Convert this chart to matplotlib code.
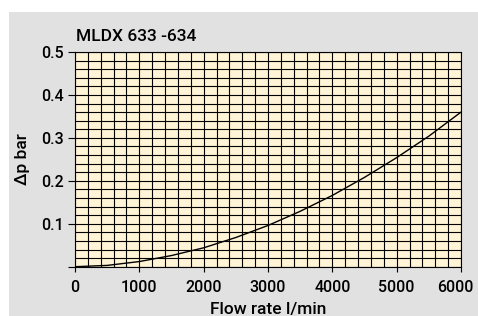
import matplotlib
matplotlib.use("Agg")
import matplotlib.pyplot as plt
import matplotlib.transforms as mtransforms
from matplotlib.patches import Rectangle
from matplotlib.ticker import MultipleLocator

# valori
portata = [0, 500, 1000, 1500, 2000, 2500, 3000, 3500, 4000, 4500, 5000, 5500, 6000]
delta_p = [0, 0.003, 0.012, 0.026, 0.044, 0.068, 0.096, 0.129, 0.166, 0.208, 0.254, 0.304, 0.36]
x_ticks = [0, 1000, 2000, 3000, 4000, 5000, 6000]
y_ticks = [0, 0.1, 0.2, 0.3, 0.4, 0.5]
y_labels = ['', '0.1', '0.2', '0.3', '0.4', '0.5']

plt.rcParams['font.family'] = ['Roboto', 'DejaVu Sans']
plt.rcParams['font.weight'] = 'medium'

fig = plt.figure(figsize=(4.78, 3.16), dpi=100)
fig.patch.set_facecolor('white')
# sfondo grigio
sfondo = Rectangle((9 / 478, 0), 1 - 9 / 478, 1 - 12 / 316,
                   transform=fig.transFigure, facecolor='#e1e1e1',
                   edgecolor='none', zorder=-10)
fig.add_artist(sfondo)

ax = fig.add_axes([75 / 478, 1 - 266.7 / 316, 386 / 478, 214.7 / 316])
ax.set_facecolor('#fff4d6')

ax.plot(portata, delta_p, color='black', linewidth=1.0, zorder=3)

ax.set_xlim(0, 6000)
ax.set_ylim(0, 0.5)
ax.set_xticks(x_ticks)
ax.set_yticks(y_ticks)
ax.set_yticklabels(y_labels)
ax.xaxis.set_minor_locator(MultipleLocator(200))
ax.yaxis.set_minor_locator(MultipleLocator(0.02))

ax.grid(True, which='both', color='black', linewidth=0.8)
ax.set_axisbelow(True)
for s in ax.spines.values():
    s.set_color('black')
    s.set_linewidth(0.8)

ax.tick_params(axis='x', which='major', length=3.5, width=0.8, labelsize=11.5, pad=6)
ax.tick_params(axis='y', which='major', length=5, width=0.8, labelsize=11.5, pad=3)
ax.tick_params(which='minor', length=0)

# l'ultima etichetta e' spostata un po' a sinistra
ultima = ax.get_xticklabels()[-1]
ultima.set_transform(ultima.get_transform() +
                     mtransforms.ScaledTranslation(-6 / 100, 0, fig.dpi_scale_trans))

ax.set_xlabel('Flow rate l/min', fontsize=12.5, fontweight='medium', labelpad=5)
ax.set_ylabel('Δp bar', fontsize=12.5, fontweight='medium', labelpad=8)
ax.text(0.003, 1.035, 'MLDX 633 -634', transform=ax.transAxes,
        fontsize=12.5, fontweight='medium', ha='left', va='bottom')

fig.savefig('out.png', dpi=100)
